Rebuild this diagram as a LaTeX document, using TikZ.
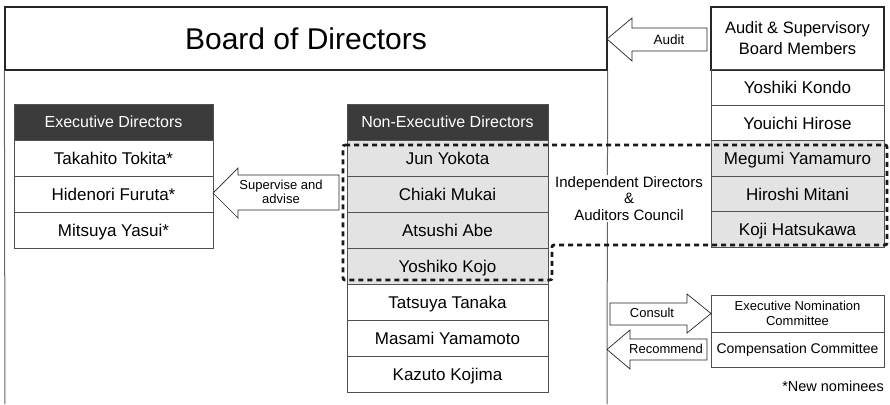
\documentclass[tikz,border=0pt]{standalone}
\usepackage{fontspec}
\setmainfont{Liberation Sans}
\definecolor{hdr}{HTML}{3B3B3B}
\definecolor{shade}{HTML}{E3E3E3}
\definecolor{edge}{HTML}{505050}
\begin{document}
\begin{tikzpicture}[x=1pt,y=-1pt,
  rowbox/.style={draw=edge, line width=0.8pt, inner sep=0pt, minimum height=36pt,
    font=\fontsize{17}{19}\selectfont, text height=12.2pt, text depth=0pt},
  hdrbox/.style={rowbox, fill=hdr, text=white, font=\fontsize{16}{19}\selectfont, text height=11.5pt},
  graybox/.style={rowbox, fill=shade},
  blockarrow/.style={draw=black!85, line width=0.7pt, fill=white, line join=miter},
  arrowlabel/.style={font=\fontsize{13}{14}\selectfont, align=center, inner sep=0pt},
  council/.style={draw=black!90, line width=2.8pt, dash pattern=on 5pt off 4pt, rounded corners=2pt},
  smallbox/.style={draw=edge, line width=0.8pt, inner sep=0pt, minimum width=173pt, align=center},
  boardline/.style={draw=black!60, line width=1pt}]
\useasboundingbox (0,0) rectangle (890,404);

% Board of Directors
\node[draw=black!85, line width=1.3pt, minimum width=602pt, minimum height=63pt, inner sep=0pt,
  font=\fontsize{30}{34}\selectfont] (board) at (306,38.5) {Board of Directors};
\coordinate (bl) at (5,404);
\coordinate (br) at (607,404);
\draw[boardline] (board.south west) -- (bl);
\draw[boardline] (board.south east) -- (br);

% Executive directors
\begin{scope}[every node/.append style={minimum width=199pt}]
\node[hdrbox] (exh) at (113.5,122) {Executive Directors};
\node[rowbox] (ex1) at (113.5,158) {Takahito Tokita*};
\node[rowbox] (ex2) at (113.5,194) {Hidenori Furuta*};
\node[rowbox] (ex3) at (113.5,230) {Mitsuya Yasui*};
\end{scope}

% Non-executive directors
\begin{scope}[every node/.append style={minimum width=201pt}]
\node[hdrbox] (neh) at (447.5,122) {Non-Executive Directors};
\node[graybox] (ne1) at (447.5,158) {Jun Yokota};
\node[graybox] (ne2) at (447.5,194) {Chiaki Mukai};
\node[graybox] (ne3) at (447.5,230) {Atsushi Abe};
\node[graybox] (ne4) at (447.5,266) {Yoshiko Kojo};
\node[rowbox] (ne5) at (447.5,302) {Tatsuya Tanaka};
\node[rowbox] (ne6) at (447.5,338) {Masami Yamamoto};
\node[rowbox] (ne7) at (447.5,374) {Kazuto Kojima};
\end{scope}

% Audit & Supervisory Board Members
\begin{scope}[every node/.append style={minimum width=173pt, minimum height=35.5pt}]
\node[rowbox, draw=black!85, line width=1.3pt, minimum height=63pt, align=center,
  font=\fontsize{16.5}{21}\selectfont, text height=, text depth=] (auh) at (797.5,38.5)
  {Audit \& Supervisory\\Board Members};
\node[rowbox] (au1) at (797.5,87.75) {Yoshiki Kondo};
\node[rowbox] (au2) at (797.5,123.25) {Youichi Hirose};
\node[graybox] (au3) at (797.5,158.75) {Megumi Yamamuro};
\node[graybox] (au4) at (797.5,194.25) {Hiroshi Mitani};
\node[graybox] (au5) at (797.5,229.75) {Koji Hatsukawa};
\end{scope}

% Council text
\node[fill=white, inner sep=1pt, align=center, font=\fontsize{15}{16.5}\selectfont] (council) at (629,198.5)
  {Independent Directors\\\&\\Auditors Council};

% Council dashed outline
\draw[council] (343,145) -- (887,145) -- (887,245) -- (552,245) -- (552,280) -- (343,280) -- cycle;

% Audit arrow
\draw[blockarrow] (607,39) -- (632,18) -- (632,28) -- (707,28) -- (707,51) -- (632,51) -- (632,61) -- cycle;
\node[arrowlabel, font=\fontsize{13.5}{14}\selectfont] (auditlbl) at (669,39.5) {Audit};

% Supervise and advise arrow
\draw[blockarrow] (213,193) -- (238,168) -- (238,175) -- (339,175) -- (339,210) -- (238,210) -- (238,218) -- cycle;
\node[arrowlabel] (suplbl) at (281,192) {Supervise and\\advise};

% Committees
\node[smallbox, minimum height=37pt, font=\fontsize{13}{14.5}\selectfont] (enc) at (797.5,313.5) {Executive Nomination\\Committee};
\node[smallbox, minimum height=35pt, font=\fontsize{14}{15}\selectfont] (comp) at (797.5,349.5) {Compensation Committee};

% Consult arrow
\draw[blockarrow] (610,303) -- (687,303) -- (687,294) -- (711,313.5) -- (687,333) -- (687,325) -- (610,325) -- cycle;
\node[arrowlabel] (conlbl) at (652,313) {Consult};

% Recommend arrow
\draw[blockarrow] (607,349.5) -- (630,330) -- (630,339) -- (707,339) -- (707,360) -- (630,360) -- (630,369) -- cycle;
\node[arrowlabel] (reclbl) at (666,349) {Recommend};

% Note
\node[anchor=east, inner sep=0pt, font=\fontsize{14.5}{16}\selectfont] (note) at (884,386) {*New nominees};
\end{tikzpicture}
\end{document}
